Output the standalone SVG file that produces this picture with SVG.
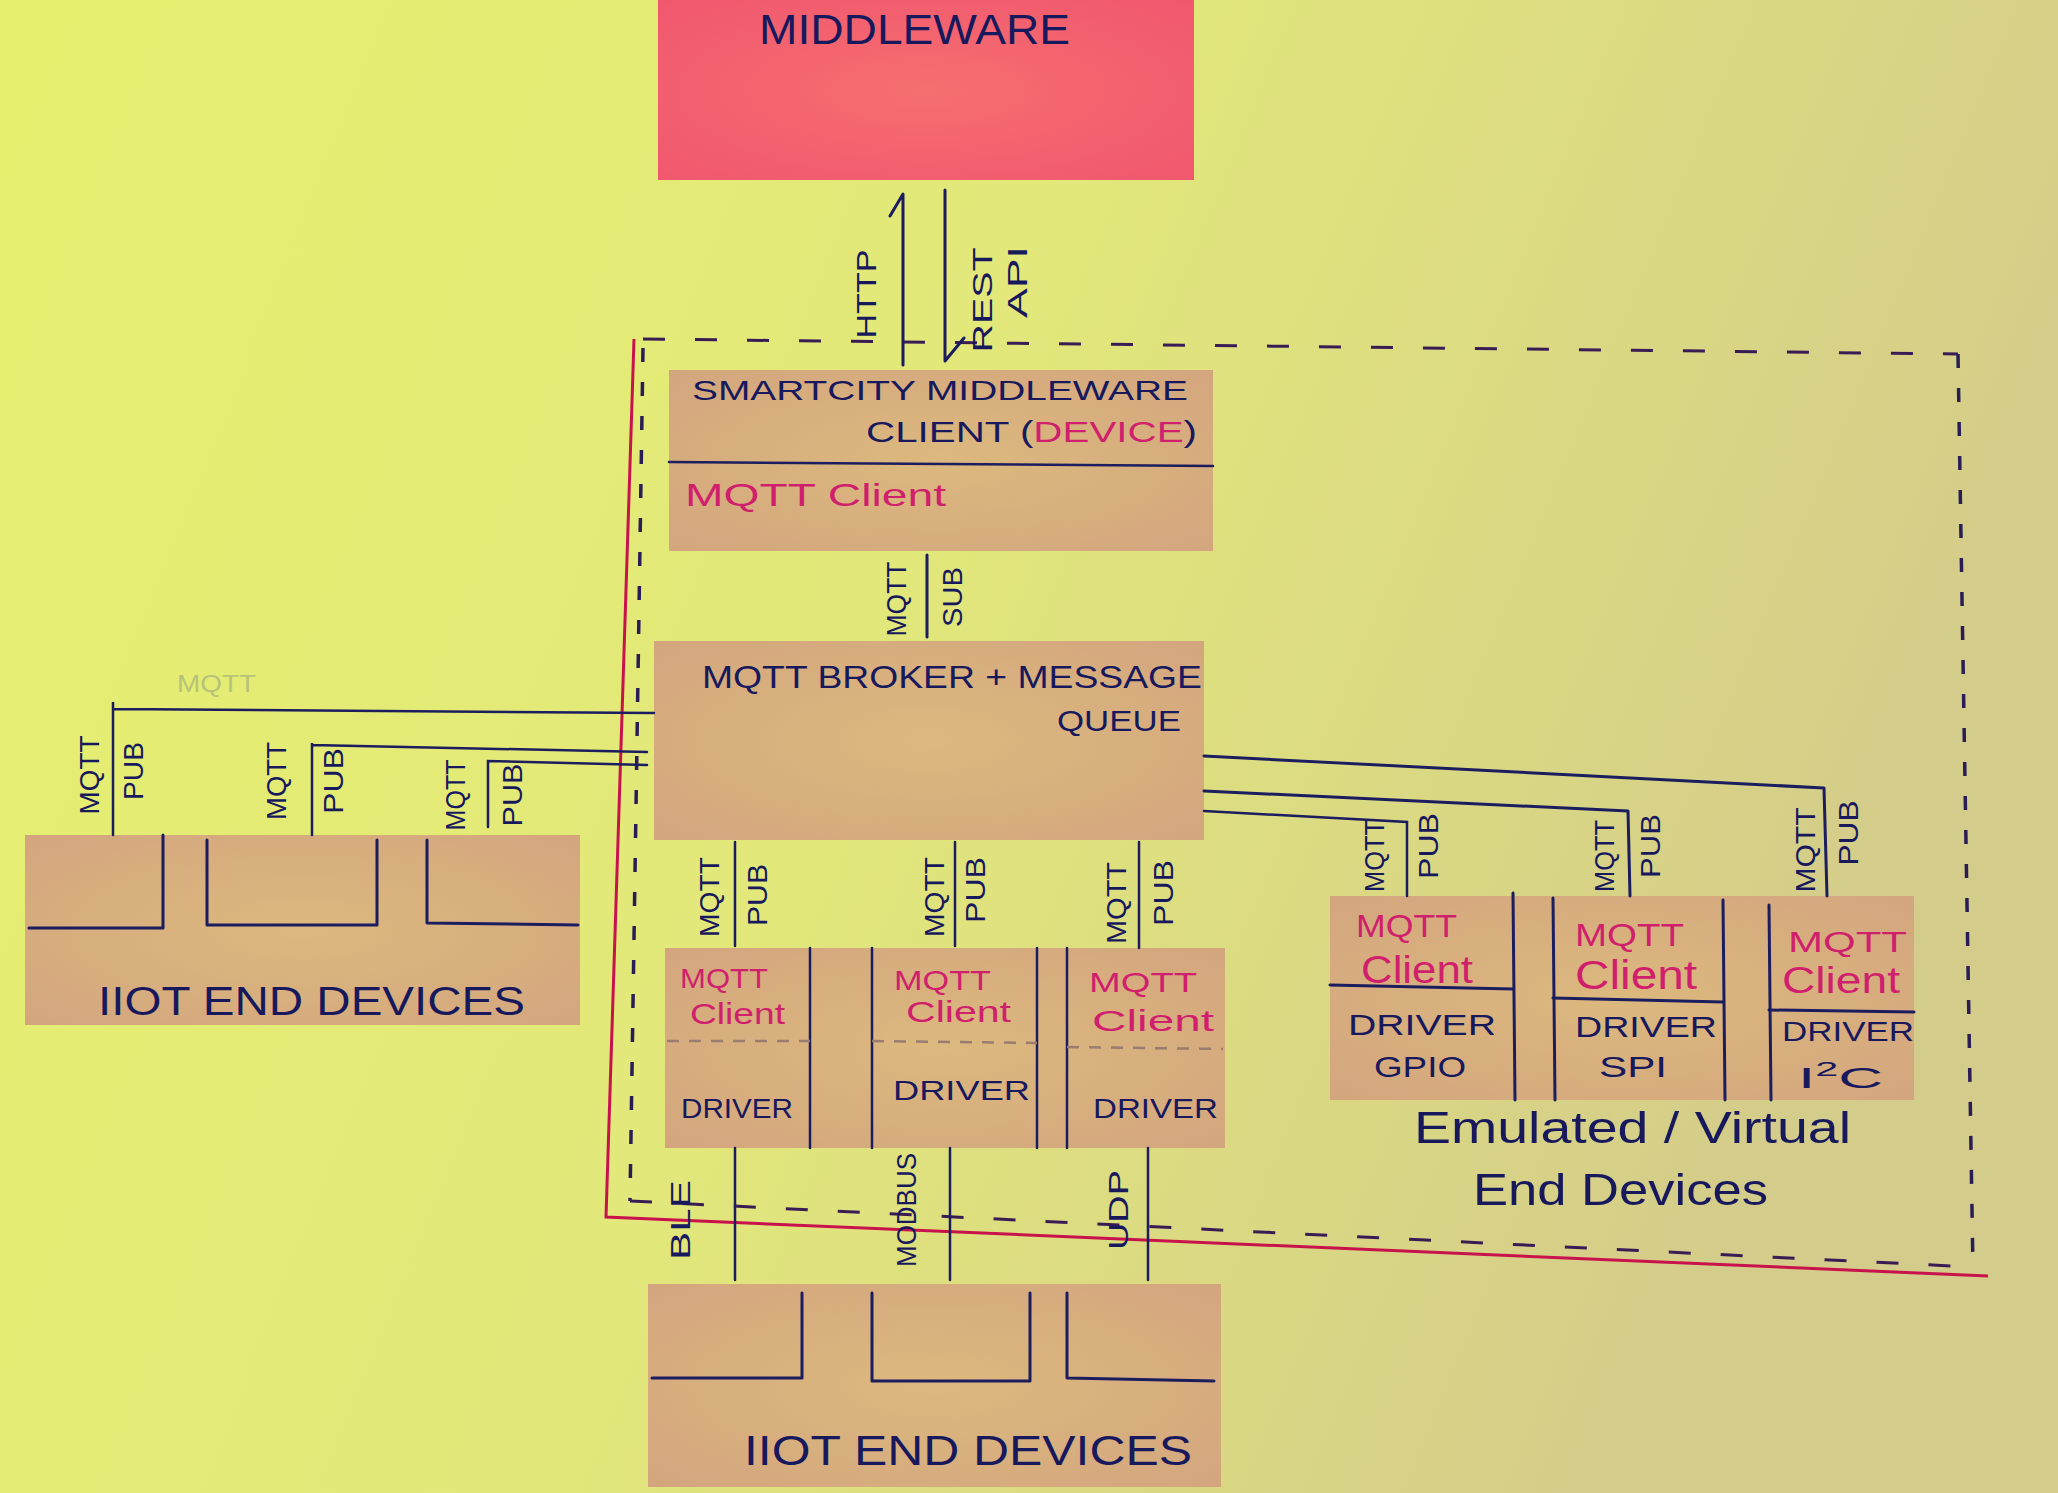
<svg xmlns="http://www.w3.org/2000/svg" width="2058" height="1493" viewBox="0 0 2058 1493">
<defs>
<linearGradient id="bg" x1="0" y1="0" x2="1" y2="0.3">
<stop offset="0" stop-color="#e6f06e"/>
<stop offset="0.5" stop-color="#e2e87a"/>
<stop offset="1" stop-color="#d4cc8a"/>
</linearGradient>
<radialGradient id="tan" cx="0.5" cy="0.5" r="0.75">
<stop offset="0" stop-color="#dcb97e"/>
<stop offset="1" stop-color="#d3a47e"/>
</radialGradient>
<radialGradient id="red" cx="0.5" cy="0.5" r="0.75">
<stop offset="0" stop-color="#f66e70"/>
<stop offset="1" stop-color="#f0566e"/>
</radialGradient>
<style>
.ink{fill:none;stroke:#1b1d5e;stroke-width:3;stroke-linecap:round;stroke-linejoin:round}
.thin{fill:none;stroke:#1b1d5e;stroke-width:2.5;stroke-linecap:round}
.box{fill:url(#tan)}
.dash{fill:none;stroke:#3a1c55;stroke-width:3;stroke-dasharray:22 30}
.dashv{fill:none;stroke:#2a1c55;stroke-width:3.5;stroke-dasharray:14 20}
.redl{fill:none;stroke:#c8124c;stroke-width:3}
.gdash{fill:none;stroke:#9a7c70;stroke-width:2.5;stroke-dasharray:12 10}
text{font-family:"Liberation Sans","DejaVu Sans",sans-serif;fill:#17195c}
.mag{fill:#d01f6c}
.rot{text-anchor:middle;dominant-baseline:central;font-size:28px}
</style>
</defs>
<rect x="0" y="0" width="2058" height="1493" fill="url(#bg)"/>

<g id="boundary">
<polyline class="redl" points="634,339 606,1217 1988,1276"/>
<path class="dash" d="M643,339 L1958,354"/>
<path class="dashv" d="M1958,354 L1973,1270"/>
<path class="dashv" d="M643,348 L630,1201"/>
<path class="dash" d="M630,1201 L1973,1267"/>
</g>

<g id="middleware">
<rect x="658" y="0" width="536" height="180" fill="url(#red)"/>
<text x="759" y="44" font-size="42" textLength="311" lengthAdjust="spacingAndGlyphs">MIDDLEWARE</text>
</g>

<g id="smartcity-client">
<rect class="box" x="669" y="370" width="544" height="181"/>
<path class="thin" d="M669,462 L1213,466"/>
<text x="692" y="400" font-size="28" textLength="496" lengthAdjust="spacingAndGlyphs">SMARTCITY MIDDLEWARE</text>
<text x="866" y="442" font-size="30" textLength="331" lengthAdjust="spacingAndGlyphs">CLIENT (<tspan class="mag">DEVICE</tspan>)</text>
<text class="mag" x="685" y="506" font-size="32" textLength="261" lengthAdjust="spacingAndGlyphs">MQTT  Client</text>
</g>

<g id="broker">
<rect class="box" x="654" y="641" width="550" height="199"/>
<text x="702" y="688" font-size="32" textLength="500" lengthAdjust="spacingAndGlyphs">MQTT BROKER + MESSAGE</text>
<text x="1057" y="731" font-size="30" textLength="124" lengthAdjust="spacingAndGlyphs">QUEUE</text>
</g>

<g id="left-devices">
<rect class="box" x="25" y="835" width="555" height="190"/>
<polyline class="ink" points="29,928 163,928 163,835"/>
<polyline class="ink" points="207,840 207,925 377,925 377,840"/>
<polyline class="ink" points="427,840 427,923 578,925"/>
<text x="98" y="1015" font-size="40" textLength="427" lengthAdjust="spacingAndGlyphs">IIOT END DEVICES</text>
</g>

<g id="device-row">
<rect class="box" x="665" y="948" width="560" height="200"/>
<path class="thin" d="M810,948 L810,1148 M872,948 L872,1148 M1037,948 L1037,1148 M1067,948 L1067,1148"/>
<path class="gdash" d="M667,1041 L810,1041 M872,1041 L1037,1043 M1067,1047 L1223,1049"/>
<text class="mag" x="680" y="988" font-size="28" textLength="88" lengthAdjust="spacingAndGlyphs">MQTT</text>
<text class="mag" x="690" y="1024" font-size="30" textLength="95" lengthAdjust="spacingAndGlyphs">Client</text>
<text x="681" y="1118" font-size="28" textLength="112" lengthAdjust="spacingAndGlyphs">DRIVER</text>
<text class="mag" x="894" y="990" font-size="28" textLength="97" lengthAdjust="spacingAndGlyphs">MQTT</text>
<text class="mag" x="906" y="1022" font-size="30" textLength="105" lengthAdjust="spacingAndGlyphs">Client</text>
<text x="893" y="1100" font-size="28" textLength="137" lengthAdjust="spacingAndGlyphs">DRIVER</text>
<text class="mag" x="1089" y="992" font-size="28" textLength="108" lengthAdjust="spacingAndGlyphs">MQTT</text>
<text class="mag" x="1092" y="1031" font-size="30" textLength="122" lengthAdjust="spacingAndGlyphs">Client</text>
<text x="1093" y="1118" font-size="28" textLength="125" lengthAdjust="spacingAndGlyphs">DRIVER</text>
</g>

<g id="bottom-devices">
<rect class="box" x="648" y="1284" width="573" height="203"/>
<polyline class="ink" points="652,1378 802,1378 802,1293"/>
<polyline class="ink" points="872,1293 872,1381 1030,1381 1030,1293"/>
<polyline class="ink" points="1067,1293 1067,1378 1214,1381"/>
<text x="744" y="1465" font-size="42" textLength="448" lengthAdjust="spacingAndGlyphs">IIOT END DEVICES</text>
</g>

<g id="emulated-devices">
<rect class="box" x="1330" y="896" width="584" height="204"/>
<path class="ink" d="M1513,893 L1515,1100 M1553,898 L1555,1100 M1723,900 L1725,1100 M1769,905 L1771,1100"/>
<path class="ink" d="M1330,985 L1513,989 M1553,998 L1723,1002 M1769,1010 L1914,1012"/>
<text class="mag" x="1356" y="937" font-size="32" textLength="101" lengthAdjust="spacingAndGlyphs">MQTT</text>
<text class="mag" x="1361" y="983" font-size="38" textLength="112" lengthAdjust="spacingAndGlyphs">Client</text>
<text x="1348" y="1035" font-size="30" textLength="148" lengthAdjust="spacingAndGlyphs">DRIVER</text>
<text x="1374" y="1077" font-size="30" textLength="92" lengthAdjust="spacingAndGlyphs">GPIO</text>
<text class="mag" x="1575" y="946" font-size="32" textLength="109" lengthAdjust="spacingAndGlyphs">MQTT</text>
<text class="mag" x="1575" y="989" font-size="40" textLength="122" lengthAdjust="spacingAndGlyphs">Client</text>
<text x="1575" y="1037" font-size="30" textLength="142" lengthAdjust="spacingAndGlyphs">DRIVER</text>
<text x="1599" y="1077" font-size="30" textLength="68" lengthAdjust="spacingAndGlyphs">SPI</text>
<text class="mag" x="1788" y="952" font-size="30" textLength="119" lengthAdjust="spacingAndGlyphs">MQTT</text>
<text class="mag" x="1782" y="993" font-size="36" textLength="118" lengthAdjust="spacingAndGlyphs">Client</text>
<text x="1782" y="1041" font-size="28" textLength="132" lengthAdjust="spacingAndGlyphs">DRIVER</text>
<text x="1798" y="1088" font-size="30" textLength="85" lengthAdjust="spacingAndGlyphs">I<tspan font-size="20" dy="-12">2</tspan><tspan dy="12">C</tspan></text>
<text x="1414" y="1143" font-size="44" textLength="437" lengthAdjust="spacingAndGlyphs">Emulated / Virtual</text>
<text x="1473" y="1205" font-size="44" textLength="295" lengthAdjust="spacingAndGlyphs">End  Devices</text>
</g>

<g id="connectors">
<!-- HTTP / REST API -->
<path class="ink" d="M903,365 L903,194 L890,216"/>
<path class="ink" d="M945,190 L945,361 L964,338"/>
<text class="rot" transform="translate(866,294) rotate(-90)" font-size="32" textLength="89" lengthAdjust="spacingAndGlyphs">HTTP</text>
<text class="rot" transform="translate(982,300) rotate(-90)" font-size="32" textLength="105" lengthAdjust="spacingAndGlyphs">REST</text>
<text class="rot" transform="translate(1017,282) rotate(-90)" font-size="32" textLength="72" lengthAdjust="spacingAndGlyphs">API</text>
<!-- MQTT SUB -->
<path class="ink" d="M927,555 L927,637"/>
<text class="rot" transform="translate(896,599) rotate(-90)" textLength="75" lengthAdjust="spacingAndGlyphs">MQTT</text>
<text class="rot" transform="translate(952,597) rotate(-90)" font-size="32" textLength="60" lengthAdjust="spacingAndGlyphs">SUB</text>
<!-- broker to device row -->
<path class="thin" d="M735,842 L735,946 M955,842 L955,946 M1139,842 L1139,948"/>
<text class="rot" transform="translate(709,897) rotate(-90)" textLength="80" lengthAdjust="spacingAndGlyphs">MQTT</text>
<text class="rot" transform="translate(757,895) rotate(-90)" textLength="62" lengthAdjust="spacingAndGlyphs">PUB</text>
<text class="rot" transform="translate(934,897) rotate(-90)" textLength="80" lengthAdjust="spacingAndGlyphs">MQTT</text>
<text class="rot" transform="translate(975,890) rotate(-90)" font-size="32" textLength="66" lengthAdjust="spacingAndGlyphs">PUB</text>
<text class="rot" transform="translate(1116,903) rotate(-90)" textLength="82" lengthAdjust="spacingAndGlyphs">MQTT</text>
<text class="rot" transform="translate(1163,893) rotate(-90)" font-size="32" textLength="66" lengthAdjust="spacingAndGlyphs">PUB</text>
<!-- protocols -->
<path class="thin" d="M735,1148 L735,1280 M950,1148 L950,1280 M1148,1148 L1148,1280"/>
<text class="rot" transform="translate(680,1220) rotate(-90)" font-size="50" textLength="80" lengthAdjust="spacingAndGlyphs">BLE</text>
<text class="rot" transform="translate(906,1210) rotate(-90)" font-size="30" textLength="114" lengthAdjust="spacingAndGlyphs">MODBUS</text>
<text class="rot" transform="translate(1118,1210) rotate(-90)" font-size="40" textLength="80" lengthAdjust="spacingAndGlyphs">UDP</text>
<!-- left devices to broker -->
<polyline class="thin" points="113,835 113,702 113,709 654,713"/>
<polyline class="thin" points="312,835 312,743 312,745 647,752"/>
<polyline class="thin" points="488,827 488,761 647,765"/>
<text class="rot" transform="translate(89,775) rotate(-90)" font-size="30" textLength="79" lengthAdjust="spacingAndGlyphs">MQTT</text>
<text class="rot" transform="translate(133,771) rotate(-90)" textLength="58" lengthAdjust="spacingAndGlyphs">PUB</text>
<text class="rot" transform="translate(276,781) rotate(-90)" textLength="78" lengthAdjust="spacingAndGlyphs">MQTT</text>
<text class="rot" transform="translate(333,781) rotate(-90)" textLength="66" lengthAdjust="spacingAndGlyphs">PUB</text>
<text class="rot" transform="translate(455,795) rotate(-90)" font-size="26" textLength="71" lengthAdjust="spacingAndGlyphs">MQTT</text>
<text class="rot" transform="translate(512,795) rotate(-90)" textLength="63" lengthAdjust="spacingAndGlyphs">PUB</text>
<text x="177" y="692" font-size="24" style="fill:#b9c27a" textLength="79" lengthAdjust="spacingAndGlyphs">MQTT</text>
<!-- broker to emulated devices -->
<polyline class="ink" points="1204,756 1824,788 1827,896"/>
<polyline class="ink" points="1204,791 1628,811 1630,896"/>
<polyline class="thin" points="1204,811 1407,822 1407,896"/>
<text class="rot" transform="translate(1805,850) rotate(-90)" textLength="85" lengthAdjust="spacingAndGlyphs">MQTT</text>
<text class="rot" transform="translate(1848,833) rotate(-90)" font-size="34" textLength="65" lengthAdjust="spacingAndGlyphs">PUB</text>
<text class="rot" transform="translate(1604,856) rotate(-90)" textLength="72" lengthAdjust="spacingAndGlyphs">MQTT</text>
<text class="rot" transform="translate(1650,846) rotate(-90)" font-size="34" textLength="64" lengthAdjust="spacingAndGlyphs">PUB</text>
<text class="rot" transform="translate(1374,856) rotate(-90)" font-size="24" textLength="72" lengthAdjust="spacingAndGlyphs">MQTT</text>
<text class="rot" transform="translate(1428,846) rotate(-90)" font-size="34" textLength="66" lengthAdjust="spacingAndGlyphs">PUB</text>
</g>
</svg>
